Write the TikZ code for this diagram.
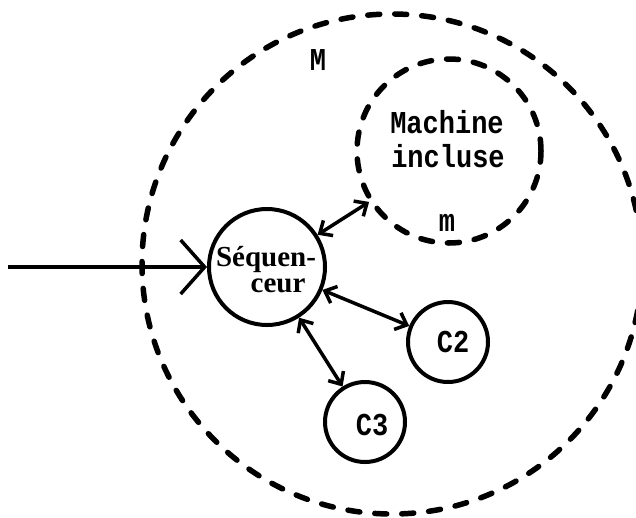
\documentclass[tikz,border=0pt]{standalone}
\usepackage{fontspec}
\setmainfont{Liberation Serif}
\newfontfamily\twfont{Liberation Mono}
\usetikzlibrary{arrows.meta}
\newcommand{\tallbox}[1]{\scalebox{1}[1.18]{#1}}
\tikzset{
  bigdash/.style={circle, draw, inner sep=0pt, line width=5.5pt, line cap=round,
    dash pattern=on 12pt off 15pt},
  solidcirc/.style={circle, draw, inner sep=0pt, line width=4pt},
  twtext/.style={font=\twfont\bfseries\fontsize{27}{30}\selectfont, inner sep=0pt, anchor=base},
  seqtext/.style={font=\bfseries\fontsize{29}{26}\selectfont, inner sep=0pt, anchor=base, align=center},
  smallbarb/.tip={Straight Barb[length=10pt,width=18pt]},
  link/.style={line width=3.5pt, {smallbarb}-{smallbarb}},
  inarrow/.style={line width=3.5pt, -{Straight Barb[length=24pt,width=54pt]}}
}
\begin{document}
\begin{tikzpicture}[x=1pt,y=-1pt]
\useasboundingbox (0,0) rectangle (636,517);
\clip (0,0) rectangle (636,517);
% big machine M
\node[bigdash, minimum size=500pt] (big) at (392,264) {};
\node[twtext] (Mlab) at (318,70) {\tallbox{M}};
% included machine m
\node[bigdash, minimum size=184pt] (mach) at (449,151) {};
\node[twtext] (machA) at (447,133) {\tallbox{Machine}};
\node[twtext] (machB) at (448,167) {\tallbox{incluse}};
\node[twtext] (mlab) at (447,231) {\tallbox{m}};
% sequencer
\node[solidcirc, minimum size=116pt] (seq) at (267,267) {};
\node[seqtext] (seqt) at (266,292) {Séquen-\\\hspace*{24pt}ceur};
% C2, C3
\node[solidcirc, minimum size=80pt] (c2) at (448,342) {};
\node[twtext] (c2t) at (453,352) {\tallbox{C2}};
\node[solidcirc, minimum size=80pt] (c3) at (365,422) {};
\node[twtext] (c3t) at (372,435) {\tallbox{C3}};
% connectors
\coordinate (in) at (8,267);
\draw[inarrow] (in) -- (seq.west);
\draw[link] (seq) -- (mach);
\draw[link] (seq) -- (c2);
\draw[link] (seq) -- (c3);
\end{tikzpicture}
\end{document}
